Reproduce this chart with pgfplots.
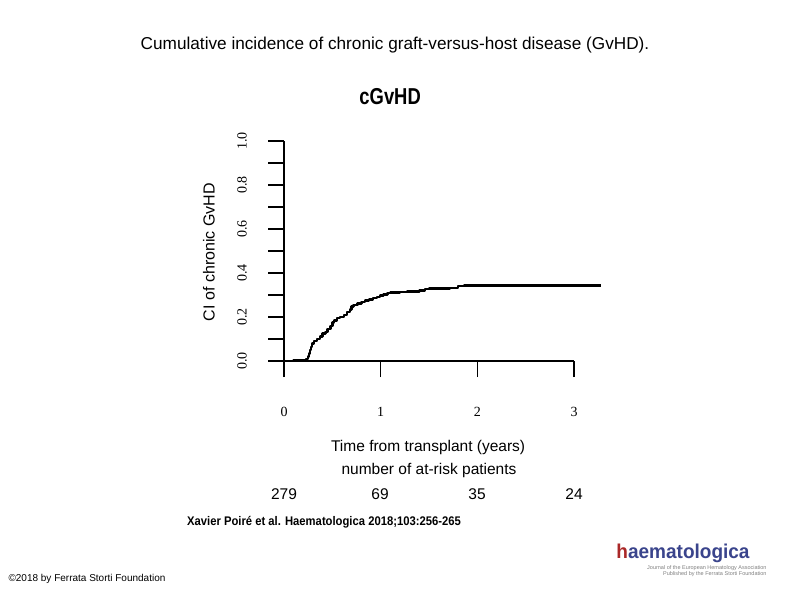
\documentclass[border=0pt]{standalone}
\usepackage{graphicx}
\usepackage{fontspec}
\setmainfont{Liberation Sans}
\newfontfamily\serif{Liberation Serif}
\usepackage{pgfplots}
\pgfplotsset{compat=1.18}
\definecolor{haem}{RGB}{58,68,140}
\definecolor{haemred}{RGB}{170,40,40}
\begin{document}
\begin{tikzpicture}[x=1pt,y=1pt]
\path[use as bounding box] (0,0) rectangle (794,595);
\node[font=\fontsize{17.2}{19}\selectfont] at (395,550) {Cumulative incidence of chronic graft-versus-host disease (GvHD).};
\begin{axis}[
  at={(284pt,234pt)}, anchor=south west,
  scale only axis, width=290pt, height=220pt,
  xmin=0, xmax=3, ymin=0, ymax=1, clip=false,
  axis x line=bottom, axis y line=left,
  axis line style={-, line width=1.6pt},
  xtick={0,1,2,3}, xticklabels={0,1,2,3},
  ytick={0,0.2,0.4,0.6,0.8,1}, yticklabels={0.0,0.2,0.4,0.6,0.8,1.0},
  minor ytick={0.1,0.3,0.5,0.7,0.9},
  tick align=outside, major tick length=16pt, minor tick length=16pt,
  every tick/.style={black, line width=1.6pt},
  xticklabel style={font=\serif\fontsize{14}{14}\selectfont, anchor=center, yshift=-35pt},
  yticklabel style={font=\serif\fontsize{14}{14}\selectfont, rotate=90, anchor=center, yshift=26pt},
  title={\scalebox{0.8}[1]{\bfseries\fontsize{23}{23}\selectfont cGvHD}},
  title style={at={(axis description cs:0.366,1.173)}, anchor=center},
  xlabel={Time from transplant (years)},
  xlabel style={font=\fontsize{15.5}{17}\selectfont, at={(axis description cs:0.497,-0.395)}, anchor=center},
  ylabel={CI of chronic GvHD},
  ylabel style={font=\fontsize{16}{17}\selectfont, at={(axis description cs:-0.259,0.495)}, anchor=center, rotate=0},
]
\addplot[const plot, black, line width=2.4pt, line join=round] coordinates {
(0,0) (0.10,0.002) (0.18,0.004) (0.23,0.008) (0.25,0.02) (0.26,0.035) (0.27,0.05)
(0.28,0.065) (0.29,0.08) (0.31,0.092) (0.34,0.10) (0.37,0.112) (0.40,0.125)
(0.43,0.132) (0.45,0.145) (0.48,0.16) (0.50,0.175) (0.52,0.185) (0.55,0.195)
(0.58,0.20) (0.62,0.21) (0.65,0.222) (0.68,0.235) (0.70,0.248) (0.72,0.255)
(0.76,0.262) (0.80,0.268) (0.84,0.275) (0.88,0.28) (0.92,0.287) (0.96,0.292)
(0.99,0.298) (1.03,0.303) (1.07,0.308) (1.10,0.311) (1.20,0.313) (1.27,0.316)
(1.40,0.320) (1.46,0.327) (1.50,0.330) (1.72,0.333) (1.80,0.340) (1.86,0.344)
(3.28,0.344)};
\end{axis}
\begin{scope}[every node/.style={font=\fontsize{15.5}{17}\selectfont}]
\node at (429,125) {number of at-risk patients};
\node at (284,101) {279};
\node at (380,101) {69};
\node at (477,101) {35};
\node at (574,101) {24};
\end{scope}
\node at (324,73) {\scalebox{0.9}[1]{\bfseries\fontsize{12.5}{14}\selectfont Xavier Poiré et al. Haematologica 2018;103:256-265}};
\node[anchor=west] at (5,16) {\scalebox{1.0}[1]{\fontsize{10}{12}\selectfont ©2018 by Ferrata Storti Foundation}};
\node[anchor=center] at (683,42) {\scalebox{0.95}[1]{\bfseries\fontsize{20}{20}\selectfont{\color{haemred}h}\color{haem}aematologica}};
\node[anchor=east, text=gray, align=right, font=\fontsize{5.5}{6.5}\selectfont] at (770,24) {Journal of the European Hematology Association\\Published by the Ferrata Storti Foundation};
\end{tikzpicture}
\end{document}
